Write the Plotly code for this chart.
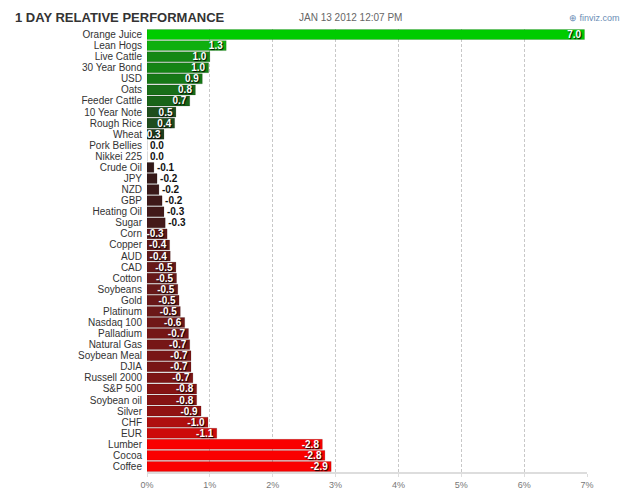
import numpy as np
import plotly.graph_objects as go

names = ["Orange Juice", "Lean Hogs", "Live Cattle", "30 Year Bond", "USD", "Oats",
         "Feeder Cattle", "10 Year Note", "Rough Rice", "Wheat", "Pork Bellies",
         "Nikkei 225", "Crude Oil", "JPY", "NZD", "GBP", "Heating Oil", "Sugar",
         "Corn", "Copper", "AUD", "CAD", "Cotton", "Soybeans", "Gold", "Platinum",
         "Nasdaq 100", "Palladium", "Natural Gas", "Soybean Meal", "DJIA",
         "Russell 2000", "S&P 500", "Soybean oil", "Silver", "CHF", "EUR",
         "Lumber", "Cocoa", "Coffee"]
values = [6.96, 1.26, 1.0, 0.98, 0.88, 0.77, 0.68, 0.46, 0.44, 0.27, 0.0,
          0.0, -0.11, -0.16, -0.19, -0.24, -0.27, -0.29, -0.32, -0.36, -0.37,
          -0.46, -0.47, -0.49, -0.51, -0.53, -0.60, -0.66, -0.68, -0.70, -0.70,
          -0.73, -0.79, -0.79, -0.86, -0.97, -1.11, -2.79, -2.83, -2.93]
tick_vals = [0, 1, 2, 3, 4, 5, 6, 7]
tick_text = ["0%", "1%", "2%", "3%", "4%", "5%", "6%", "7%"]

g_pts = [0.0, 0.26, 0.46, 0.68, 0.77, 0.88, 1.0, 1.26, 7.0]
g_r = [30, 30, 30, 25, 25, 22, 20, 15, 0]
g_g = [55, 62, 78, 100, 110, 120, 135, 175, 205]
r_pts = [0.0, 0.11, 0.29, 0.32, 0.5, 0.7, 0.86, 0.97, 1.11, 2.8]
r_r = [40, 50, 68, 95, 105, 120, 145, 175, 205, 250]
r_g = [25, 25, 25, 25, 25, 22, 18, 15, 10, 0]


def color_for(v):
    a = abs(v)
    if v >= 0:
        r = np.interp(a, g_pts, g_r)
        g = np.interp(a, g_pts, g_g)
        return f"rgb({int(r)},{int(g)},{int(r)})"
    r = np.interp(a, r_pts, r_r)
    g = np.interp(a, r_pts, r_g)
    return f"rgb({int(r)},{int(g)},{int(g)})"


lengths = [abs(v) for v in values]
labels = [f"{v:.1f}" for v in values]
colors = [color_for(v) for v in values]
positions = ["inside" if (v > 0 or v <= -0.3) else "outside" for v in values]

fig = go.Figure(go.Bar(
    x=lengths, y=names, orientation="h",
    marker=dict(color=colors, line=dict(color="rgba(0,0,0,0.25)", width=0.6)),
    text=labels, textposition=positions, textangle=0, constraintext="none",
    insidetextanchor="end", cliponaxis=False,
    insidetextfont=dict(family="Liberation Sans, Arial", size=10, color="white",
                        weight="bold", shadow="1px 1px 1px #000"),
    outsidetextfont=dict(family="Liberation Sans, Arial", size=10, color="#111",
                         weight="bold"),
    hoverinfo="skip",
))

fig.update_layout(
    width=625, height=493,
    margin=dict(l=147, r=38, t=29, b=21),
    paper_bgcolor="white", plot_bgcolor="white",
    bargap=0.1, showlegend=False,
    font=dict(family="Liberation Sans, Arial", color="#333"),
    xaxis=dict(range=[0, 7], tickvals=tick_vals, ticktext=tick_text,
               automargin=False,
               showgrid=True, gridcolor="#c8c8c8", griddash="3px,2px", gridwidth=1,
               zeroline=False, showline=True, linecolor="#dddddd", linewidth=2,
               ticks="outside", ticklen=3, tickcolor="#dddddd",
               tickfont=dict(size=9, color="#777")),
    yaxis=dict(autorange="reversed", showgrid=False, zeroline=False,
               automargin=False, tickmode="array", tickvals=names,
               ticks="", ticklabelstandoff=4,
               tickfont=dict(size=10, color="#333")),
)

fig.add_annotation(text="<b>1 DAY RELATIVE PERFORMANCE</b>", xref="paper", yref="paper",
                   x=-0.305, y=1.0, xanchor="left", yanchor="bottom", yshift=2,
                   showarrow=False, font=dict(size=13, color="#333"))
fig.add_annotation(text="JAN 13 2012 12:07 PM", xref="paper", yref="paper",
                   x=0.34, y=1.0, xanchor="left", yanchor="bottom", yshift=4,
                   showarrow=False, font=dict(size=10, color="#666"))
fig.add_annotation(text="⊕ finviz.com", xref="paper", yref="paper",
                   x=1.08, y=1.0, xanchor="right", yanchor="bottom", yshift=4,
                   showarrow=False, font=dict(size=9, color="#6a8db5"))

fig.write_html("out.html")
